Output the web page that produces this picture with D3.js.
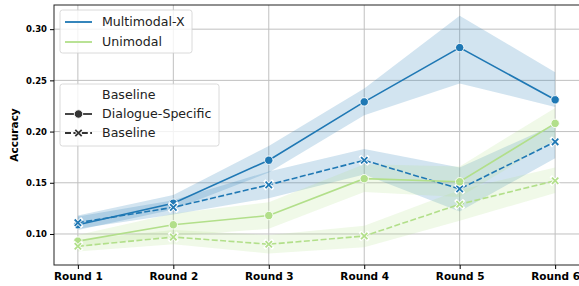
<!DOCTYPE html>
<html>
<head>
<meta charset="utf-8">
<script src="https://cdn.jsdelivr.net/npm/d3@7"></script>
<style>
  body { margin: 0; background: #fff; }
  svg { font-family: "DejaVu Sans", sans-serif; }
</style>
</head>
<body>
<svg id="chart" width="579" height="286"></svg>
<script>
// data
const rounds = ["Round 1", "Round 2", "Round 3", "Round 4", "Round 5", "Round 6"];
const yTicks = [0.10, 0.15, 0.20, 0.25, 0.30];

const multiDialogue = [0.109, 0.130, 0.172, 0.229, 0.282, 0.231];
const multiDialogueLo = [0.104, 0.124, 0.160, 0.216, 0.247, 0.224];
const multiDialogueHi = [0.118, 0.138, 0.186, 0.242, 0.313, 0.258];

const multiBaseline = [0.111, 0.126, 0.148, 0.172, 0.144, 0.190];
const multiBaselineLo = [0.105, 0.119, 0.135, 0.158, 0.122, 0.174];
const multiBaselineHi = [0.117, 0.133, 0.161, 0.183, 0.165, 0.207];

const uniDialogue = [0.093, 0.109, 0.118, 0.154, 0.151, 0.208];
const uniDialogueLo = [0.087, 0.098, 0.105, 0.141, 0.136, 0.192];
const uniDialogueHi = [0.099, 0.120, 0.131, 0.168, 0.166, 0.223];

const uniBaseline = [0.088, 0.097, 0.090, 0.098, 0.129, 0.152];
const uniBaselineLo = [0.083, 0.090, 0.081, 0.087, 0.113, 0.140];
const uniBaselineHi = [0.094, 0.104, 0.099, 0.108, 0.143, 0.165];

const blue = "#1f78b4";
const green = "#b2df8a";

const series = [
  {name: "Multimodal-X", style: "Dialogue-Specific", color: blue, values: multiDialogue, lo: multiDialogueLo, hi: multiDialogueHi},
  {name: "Multimodal-X", style: "Baseline", color: blue, values: multiBaseline, lo: multiBaselineLo, hi: multiBaselineHi},
  {name: "Unimodal", style: "Dialogue-Specific", color: green, values: uniDialogue, lo: uniDialogueLo, hi: uniDialogueHi},
  {name: "Unimodal", style: "Baseline", color: green, values: uniBaseline, lo: uniBaselineLo, hi: uniBaselineHi}
];

const margin = {top: 5, right: 0, bottom: 21, left: 54};
const width = 579, height = 286;

const svg = d3.select("#chart");

const x = d3.scalePoint()
  .domain(rounds)
  .range([margin.left, width - margin.right])
  .padding(0.25);

const y = d3.scaleLinear()
  .domain([0.0697, 0.3236])
  .range([height - margin.bottom, margin.top]);

const clip = svg.append("clipPath").attr("id", "clip")
  .append("rect")
  .attr("x", margin.left).attr("y", margin.top)
  .attr("width", width - margin.left - margin.right)
  .attr("height", height - margin.top - margin.bottom);

// grid
const grid = svg.append("g");
grid.selectAll("line.v")
  .data(rounds)
  .join("line")
    .attr("x1", d => x(d)).attr("x2", d => x(d))
    .attr("y1", margin.top).attr("y2", height - margin.bottom)
    .attr("stroke", "#c0c0c0").attr("stroke-width", 1);
grid.selectAll("line.h")
  .data(yTicks)
  .join("line")
    .attr("x1", margin.left).attr("x2", width - margin.right)
    .attr("y1", d => y(d)).attr("y2", d => y(d))
    .attr("stroke", "#c0c0c0").attr("stroke-width", 1);

const plot = svg.append("g").attr("clip-path", "url(#clip)");

const area = d3.area()
  .x((d, i) => x(rounds[i]))
  .y0(d => y(d[0]))
  .y1(d => y(d[1]));

const line = d3.line()
  .x((d, i) => x(rounds[i]))
  .y(d => y(d));

series.forEach(s => {
  plot.append("path")
    .datum(s.lo.map((v, i) => [v, s.hi[i]]))
    .attr("d", area)
    .attr("fill", s.color)
    .attr("fill-opacity", 0.2);
});

function drawMarker(g, style, color, cx, cy) {
  if (style === "Dialogue-Specific") {
    g.append("circle")
      .attr("cx", cx).attr("cy", cy).attr("r", 4.2)
      .attr("fill", color).attr("stroke", "#fff").attr("stroke-width", 0.9);
  } else {
    const p = `M${cx - 3.2},${cy - 3.2}L${cx + 3.2},${cy + 3.2}M${cx - 3.2},${cy + 3.2}L${cx + 3.2},${cy - 3.2}`;
    g.append("path").attr("d", p).attr("stroke", "#fff").attr("stroke-width", 3.4).attr("stroke-linecap", "square");
    g.append("path").attr("d", p).attr("stroke", color).attr("stroke-width", 1.8);
  }
}

series.forEach(s => {
  plot.append("path")
    .datum(s.values)
    .attr("d", line)
    .attr("fill", "none")
    .attr("stroke", s.color)
    .attr("stroke-width", 1.6)
    .attr("stroke-dasharray", s.style === "Baseline" ? "6,2.4" : null);
  const mg = plot.append("g");
  s.values.forEach((v, i) => drawMarker(mg, s.style, s.color, x(rounds[i]), y(v)));
});

// spines
svg.append("rect")
  .attr("x", margin.left).attr("y", margin.top)
  .attr("width", width - margin.left - margin.right + 2)
  .attr("height", height - margin.top - margin.bottom)
  .attr("fill", "none").attr("stroke", "#222").attr("stroke-width", 1);

// axes
const xAxis = svg.append("g")
  .attr("transform", `translate(0,${height - margin.bottom})`)
  .call(d3.axisBottom(x).tickSize(4).tickPadding(4).tickSizeOuter(0));
xAxis.select(".domain").remove();
xAxis.selectAll("text")
  .attr("font-family", "DejaVu Sans").attr("font-weight", "bold")
  .attr("font-size", 10.5).attr("fill", "#000");

const yAxis = svg.append("g")
  .attr("transform", `translate(${margin.left},0)`)
  .call(d3.axisLeft(y).tickValues(yTicks).tickFormat(d3.format(".2f")).tickSize(4).tickPadding(3));
yAxis.select(".domain").remove();
yAxis.selectAll("text")
  .attr("font-family", "DejaVu Sans").attr("font-weight", "bold")
  .attr("font-size", 8.5).attr("fill", "#000");

svg.append("text")
  .attr("transform", `translate(18,${(margin.top + height - margin.bottom) / 2}) rotate(-90)`)
  .attr("text-anchor", "middle")
  .attr("font-weight", "bold")
  .attr("font-size", 10.5)
  .text("Accuracy");

// legends
function legendBox(x0, y0, w, h) {
  svg.append("rect")
    .attr("x", x0).attr("y", y0).attr("width", w).attr("height", h)
    .attr("rx", 2.5)
    .attr("fill", "#fff").attr("fill-opacity", 0.8)
    .attr("stroke", "#d0d0d0").attr("stroke-width", 0.8);
}

legendBox(60, 10, 132, 43);
const hueItems = [{label: "Multimodal-X", color: blue}, {label: "Unimodal", color: green}];
hueItems.forEach((d, i) => {
  const cy = 22 + i * 20;
  svg.append("line")
    .attr("x1", 65).attr("x2", 92).attr("y1", cy).attr("y2", cy)
    .attr("stroke", d.color).attr("stroke-width", 1.8);
  svg.append("text")
    .attr("x", 102).attr("y", cy).attr("dy", "0.35em")
    .attr("font-size", 12.6).attr("fill", "#222")
    .text(d.label);
});

legendBox(60, 84, 159, 62);
svg.append("text")
  .attr("x", 102).attr("y", 95).attr("dy", "0.35em")
  .attr("font-size", 12.6).attr("fill", "#222")
  .text("Baseline");
const styleItems = ["Dialogue-Specific", "Baseline"];
styleItems.forEach((d, i) => {
  const cy = 114 + i * 19;
  svg.append("line")
    .attr("x1", 65).attr("x2", 92).attr("y1", cy).attr("y2", cy)
    .attr("stroke", "#333").attr("stroke-width", 1.8)
    .attr("stroke-dasharray", d === "Baseline" ? "6,2.4" : null);
  drawMarker(svg.append("g"), d, "#333", 78.5, cy);
  svg.append("text")
    .attr("x", 102).attr("y", cy).attr("dy", "0.35em")
    .attr("font-size", 12.6).attr("fill", "#222")
    .text(d);
});
</script>
</body>
</html>
